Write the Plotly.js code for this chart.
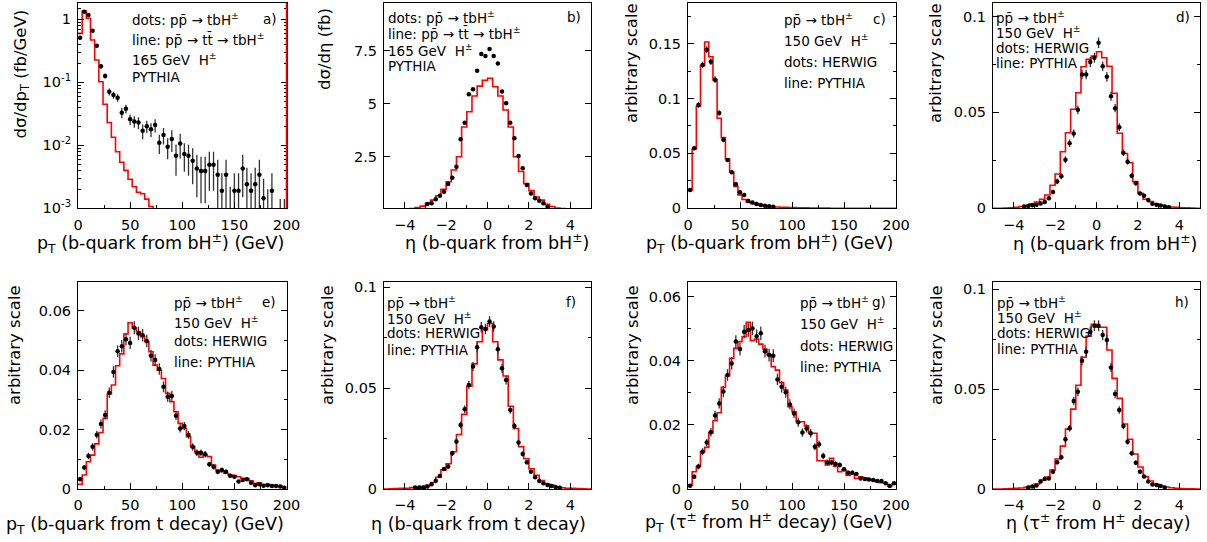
<!DOCTYPE html>
<html><head><meta charset="utf-8">
<script src="https://cdn.plot.ly/plotly-3.0.1.min.js"></script>
<style>html,body{margin:0;padding:0;background:#fff}#chart{width:1207px;height:542px}</style>
</head><body><div id="chart"></div>
<script>
// ---------------- DATA ----------------
const ptBinWidth = 4;        // GeV
const etaLineBinWidth = 0.25;
const etaDotBinWidth = 0.2;

// a) pT of b from bH+-, dsigma/dpT (fb/GeV), log scale
const aLine = [0.60,1.35,1.04,0.47,0.226,0.102,0.045,0.023,0.0134,0.0079,0.0054,0.0040,0.0029,0.0022,0.0018,0.0017,0.0014,0.00107,0.0008,0.0006,0.0005,0.0004,0.0003,0.00025,0.0002];
const aDots = [0.51,1.32,1.17,0.66,0.38,0.18,0.126,0.071,0.063,0.057,0.033,0.038,0.026,0.024,0.023,0.017,0.020,0.018,0.021,0.011,0.0146,0.0095,0.0126,0.0068,0.0107,0.0073,0.0068,0.0057,0.0043,0.0039,0.0039,0.0049,0.0049,0.0034,0.0019,0.0034,0.0009,0.0019,0.0019,0.0043,0.0024,0.0019,0.0024,0.0034,0.00144,0.0008,0.0019,null,0.0006,0.0006];
const aErr = [0.02,0.04,0.04,0.03,0.02,0.015,0.012,0.009,0.008,0.008,0.006,0.006,0.005,0.005,0.005,0.0045,0.0045,0.0045,0.005,0.0037,0.0043,0.0035,0.0048,0.0035,0.0045,0.0035,0.0035,0.0033,0.0028,0.0027,0.0027,0.003,0.003,0.0025,0.0017,0.0025,0.0013,0.0017,0.0017,0.0028,0.002,0.0017,0.002,0.0025,0.0015,0.0012,0.0017,0,0.0008,0.0008];
const aMinorTicks = [0.002,0.003,0.004,0.005,0.006,0.007,0.008,0.009,0.02,0.03,0.04,0.05,0.06,0.07,0.08,0.09,0.2,0.3,0.4,0.5,0.6,0.7,0.8,0.9,1.5];

// b) eta of b from bH+-, dsigma/deta (fb)
const bLine = [0,0,0.01,0.02,0.03,0.05,0.10,0.17,0.30,0.45,0.66,0.96,1.32,1.87,2.50,3.90,4.62,5.36,5.83,6.10,6.20,5.80,5.36,4.70,3.90,2.50,1.80,1.23,0.90,0.60,0.45,0.25,0.15,0.08,0.05,0.03,0.02,0.01,0,0];
const bDotFirst = -2.9;
const bDots = [0.27,0.30,0.49,0.66,0.85,1.21,1.51,2.03,3.32,4.10,5.44,5.68,6.56,7.34,7.25,7.58,7.25,6.90,5.57,5.02,4.10,3.37,2.53,1.95,1.17,0.77,0.54,0.42,0.30,0.14];

// c) pT of b from bH+-, arbitrary scale
const cLine = [0.0167,0.054,0.093,0.130,0.1515,0.138,0.117,0.082,0.0645,0.045,0.033,0.020,0.0122,0.0080,0.0055,0.0045,0.0035,0.0028,0.0024,0.0018,0.0014,0.0012,0.0010,0.0008,0.0007,0.0006,0.0005,0.0004,0.0004,0.0003,0.0003,0.0002,0.0002,0.0002,0.0001,0.0001,0.0001,0.0001,0.0001,0,0,0,0,0,0,0,0,0,0,0];
const cDots = [0.0167,0.0548,0.094,0.1305,0.1445,0.1336,0.1172,0.0867,0.0624,0.0441,0.0329,0.0219,0.0146,0.0122,0.0067,0.0052,0.0040,0.0030,0.0024,0.0019,0.0015];
const cErr = [0.0012,0.002,0.0025,0.003,0.003,0.003,0.003,0.0025,0.0022,0.0018,0.0015,0.0013,0.0011,0.001,0.0008,0.0007,0.0006,0.0005,0.0005,0.0004,0.0004];

// d) eta of b from bH+-
const dLine = [0,0,0.0001,0.0003,0.0005,0.0009,0.0014,0.0023,0.0033,0.0047,0.0069,0.0120,0.0179,0.0295,0.0394,0.0516,0.0602,0.0738,0.0776,0.0793,0.0816,0.0785,0.0740,0.0600,0.0391,0.0286,0.0238,0.0139,0.0078,0.0047,0.0035,0.0023,0.0016,0.0010,0.0007,0.0005,0.0003,0.0002,0.0001,0];
const dDotFirst = -3.5;
const dDots = [0.0009,0.0012,0.0016,0.0018,0.0025,0.0033,0.0052,0.0085,0.0140,0.0167,0.0253,0.0339,0.0390,0.0513,0.0697,0.0697,0.0762,0.0785,0.0863,0.0740,0.0685,0.0584,0.0522,0.0423,0.0290,0.0243,0.0170,0.0130,0.0077,0.0066,0.0043,0.0024,0.0018,0.0015,0.0010,0.0006];
const dErr = [0.0004,0.0005,0.0006,0.0006,0.0007,0.0008,0.001,0.0012,0.0015,0.0016,0.0018,0.002,0.0021,0.0023,0.0025,0.0025,0.0026,0.0026,0.0027,0.0025,0.0025,0.0023,0.0022,0.002,0.0017,0.0016,0.0013,0.0012,0.001,0.0009,0.0007,0.0006,0.0005,0.0005,0.0004,0.0003];

// e) pT of b from t decay
const eLine = [0.0016,0.0047,0.0092,0.0114,0.0152,0.0190,0.0238,0.0320,0.0350,0.0415,0.0455,0.0522,0.0560,0.0542,0.0530,0.0513,0.0496,0.0462,0.0417,0.0400,0.0372,0.0322,0.0294,0.0260,0.0221,0.0204,0.0176,0.0142,0.0126,0.0107,0.0114,0.0109,0.0081,0.0064,0.0058,0.0053,0.0047,0.0045,0.0041,0.0036,0.0034,0.0028,0.0019,0.0021,0.0013,0.0016,0.0013,0.0010,0.0010,0.0006];
const eDots = [0.0033,0.0072,0.0111,0.0142,0.0183,0.0219,0.0249,0.0324,0.0394,0.0464,0.0481,0.0504,0.0492,0.0543,0.0524,0.0518,0.0498,0.0449,0.0434,0.0404,0.0344,0.0311,0.0313,0.0247,0.0204,0.0212,0.0182,0.0142,0.0122,0.0122,0.0117,0.0083,0.0075,0.0058,0.0064,0.0058,0.0045,0.0041,0.0025,0.0030,0.0033,0.0021,0.0013,0.0016,0.0011,0.0013,0.0010,0.0010,0.0008,0.0004];
const eErr = [0.0006,0.0009,0.0011,0.0012,0.0013,0.0015,0.0016,0.0018,0.0019,0.002,0.0021,0.0021,0.0021,0.0022,0.0022,0.0021,0.0021,0.002,0.002,0.0019,0.0018,0.0017,0.0017,0.0015,0.0014,0.0014,0.0013,0.0012,0.0011,0.0011,0.0011,0.0009,0.0009,0.0008,0.0008,0.0008,0.0007,0.0006,0.0005,0.0005,0.0006,0.0005,0.0004,0.0004,0.0003,0.0004,0.0003,0.0003,0.0003,0.0002];

// f) eta of b from t decay
const fLine = [0,0.0001,0.0002,0.0003,0.0004,0.0007,0.0009,0.0012,0.0018,0.0032,0.0058,0.0095,0.0125,0.0185,0.0270,0.0370,0.0510,0.0620,0.0730,0.0790,0.0820,0.0730,0.0640,0.0560,0.0410,0.0300,0.0210,0.0150,0.0100,0.0068,0.0042,0.0026,0.0018,0.0010,0.0006,0.0004,0.0003,0.0002,0.0001,0];
const fDotFirst = -3.5;
const fDots = [0.0007,0.0007,0.0008,0.0012,0.0023,0.0041,0.0064,0.0099,0.0111,0.0177,0.0235,0.0317,0.0395,0.0516,0.0607,0.0702,0.0802,0.0793,0.0830,0.0805,0.0693,0.0598,0.0540,0.0392,0.0312,0.0231,0.0174,0.0132,0.0086,0.0058,0.0040,0.0028,0.0020,0.0015,0.0009,0.0006];
const fErr = [0.0003,0.0003,0.0003,0.0004,0.0005,0.0007,0.0008,0.001,0.0011,0.0013,0.0015,0.0017,0.0019,0.0021,0.0023,0.0025,0.0026,0.0026,0.0027,0.0026,0.0025,0.0023,0.0022,0.0019,0.0017,0.0015,0.0013,0.0011,0.0009,0.0008,0.0006,0.0005,0.0004,0.0004,0.0003,0.0003];

// g) pT of tau from H+- decay
const gLine = [0.0012,0.0054,0.0070,0.0116,0.0130,0.0176,0.0213,0.0238,0.0317,0.0353,0.0408,0.0439,0.0460,0.0475,0.0520,0.0463,0.0468,0.0452,0.0437,0.0418,0.0382,0.0371,0.0332,0.0309,0.0257,0.0241,0.0210,0.0210,0.0197,0.0174,0.0174,0.0088,0.0088,0.0075,0.0096,0.0070,0.0054,0.0059,0.0042,0.0047,0.0033,0.0038,0.0035,0.0028,0.0028,0.0023,0.0020,0.0018,0.0009,0.0015];
const gDots = [0.0010,0.0038,0.0070,0.0116,0.0145,0.0177,0.0229,0.0267,0.0304,0.0356,0.0392,0.0460,0.0437,0.0491,0.0496,0.0501,0.0477,0.0486,0.0430,0.0418,0.0416,0.0342,0.0319,0.0302,0.0264,0.0236,0.0208,0.0176,0.0189,0.0174,0.0132,0.0140,0.0103,0.0083,0.0083,0.0078,0.0075,0.0062,0.0051,0.0051,0.0047,0.0033,0.0031,0.0030,0.0028,0.0025,0.0025,0.0018,0.0009,0.0018];
const gErr = [0.0004,0.0007,0.0009,0.0011,0.0012,0.0013,0.0015,0.0016,0.0017,0.0018,0.0019,0.002,0.002,0.0021,0.0021,0.0021,0.0021,0.0021,0.002,0.002,0.002,0.0018,0.0018,0.0017,0.0016,0.0015,0.0014,0.0013,0.0013,0.0013,0.0011,0.0011,0.001,0.0009,0.0009,0.0008,0.0008,0.0007,0.0007,0.0007,0.0006,0.0005,0.0005,0.0005,0.0005,0.0005,0.0005,0.0004,0.0003,0.0004];

// h) eta of tau from H+- decay
const hLine = [0,0,0.0001,0.0002,0.0003,0.0005,0.0008,0.0013,0.0025,0.0045,0.0060,0.0095,0.0150,0.0215,0.0300,0.0400,0.0520,0.0660,0.0766,0.0825,0.0810,0.0810,0.0696,0.0554,0.0454,0.0326,0.0249,0.0175,0.0110,0.0062,0.0040,0.0025,0.0015,0.0010,0.0006,0.0004,0.0002,0.0001,0.0001,0];
const hDotFirst = -3.3;
const hDots = [0.0007,0.0012,0.0017,0.0037,0.0050,0.0053,0.0087,0.0134,0.0159,0.0249,0.0304,0.0441,0.0487,0.0643,0.0688,0.0788,0.0818,0.0818,0.0771,0.0746,0.0609,0.0476,0.0396,0.0316,0.0237,0.0179,0.0132,0.0087,0.0062,0.0037,0.0023,0.0020,0.0015,0.0008];
const hErr = [0.0003,0.0004,0.0004,0.0006,0.0007,0.0007,0.0009,0.0011,0.0012,0.0015,0.0017,0.002,0.0021,0.0024,0.0025,0.0026,0.0027,0.0027,0.0026,0.0026,0.0023,0.0021,0.0019,0.0017,0.0015,0.0013,0.0011,0.0009,0.0008,0.0006,0.0005,0.0004,0.0004,0.0003];

// ---------------- LAYOUT HELPERS ----------------
const W = 1207, H = 542;
const FONT = 'DejaVu Sans';
const colPx = [[78,286.5],[384,591],[688,896],[993,1200]];
const rowPx = [[3,208.3],[282,489]];
const px = p => p / W;
const py = p => 1 - p / H;

function stepTrace(lo, w, vals, ax) {
  const x = [], y = [];
  vals.forEach((v, i) => { x.push(lo + i * w); y.push(v); });
  x.push(lo + vals.length * w); y.push(vals[vals.length - 1]);
  return {type:'scatter', mode:'lines', x, y, xaxis:'x'+ax, yaxis:'y'+ax,
    line:{shape:'hv', color:'#ff0000', width:1.6}, hoverinfo:'skip', showlegend:false};
}
function dotTrace(first, w, vals, errs, ax) {
  const x = vals.map((_, i) => first + i * w);
  const t = {type:'scatter', mode:'markers', x, y:vals, xaxis:'x'+ax, yaxis:'y'+ax,
    marker:{color:'#000', size:4.5}, showlegend:false, hoverinfo:'skip'};
  if (errs) t.error_y = {type:'data', array:errs, visible:true, color:'#333', thickness:1.3, width:0};
  return t;
}

const traces = [
  stepTrace(0, ptBinWidth, aLine, ''),
  dotTrace(ptBinWidth/2, ptBinWidth, aDots, aErr, ''),
  stepTrace(-5, etaLineBinWidth, bLine, '2'),
  dotTrace(bDotFirst, etaDotBinWidth, bDots, null, '2'),
  stepTrace(0, ptBinWidth, cLine, '3'),
  dotTrace(ptBinWidth/2, ptBinWidth, cDots, cErr, '3'),
  stepTrace(-5, etaLineBinWidth, dLine, '4'),
  dotTrace(dDotFirst, etaDotBinWidth, dDots, dErr, '4'),
  stepTrace(0, ptBinWidth, eLine, '5'),
  dotTrace(ptBinWidth/2, ptBinWidth, eDots, eErr, '5'),
  stepTrace(-5, etaLineBinWidth, fLine, '6'),
  dotTrace(fDotFirst, etaDotBinWidth, fDots, fErr, '6'),
  stepTrace(0, ptBinWidth, gLine, '7'),
  dotTrace(ptBinWidth/2, ptBinWidth, gDots, gErr, '7'),
  stepTrace(-5, etaLineBinWidth, hLine, '8'),
  dotTrace(hDotFirst, etaDotBinWidth, hDots, hErr, '8'),
];

const tickFont = {family:FONT, size:14.5, color:'#000'};
function baseAxis() {
  return {showline:true, linecolor:'#000', linewidth:1, ticks:'inside', ticklen:6, tickwidth:1,
    tickcolor:'#000', tickfont:tickFont, showgrid:false, zeroline:false, fixedrange:true, ticklabelstandoff:3};
}
function xAxis(col, row, isPt, anchor) {
  const a = baseAxis();
  a.domain = [px(colPx[col][0]), px(colPx[col][1])];
  a.anchor = anchor; a.mirror = true;
  if (isPt) { a.range = [0,200]; a.dtick = 50; a.tick0 = 0; a.minor = {ticks:'inside', ticklen:3, dtick:25, tickcolor:'#000'}; }
  else { a.range = [-5,5]; a.dtick = 2; a.tick0 = 0; a.minor = {ticks:'inside', ticklen:3, dtick:1, tickcolor:'#000'}; }
  return a;
}
function yAxis(row, range, dtick, minor, anchor) {
  const a = baseAxis();
  a.domain = [py(rowPx[row][1]), py(rowPx[row][0])];
  a.anchor = anchor; a.mirror = 'ticks';
  a.range = range; a.dtick = dtick; a.tick0 = 0;
  if (minor) a.minor = {ticks:'inside', ticklen:3, dtick:minor, tickcolor:'#000'};
  return a;
}

const layout = {
  width:W, height:H, autosize:false, margin:{l:0,r:0,t:0,b:0},
  paper_bgcolor:'#fff', plot_bgcolor:'#fff', showlegend:false,
  font:{family:FONT, color:'#000'},
  xaxis: xAxis(0,0,true,'y'),
  xaxis2: xAxis(1,0,false,'y2'),
  xaxis3: xAxis(2,0,true,'y3'),
  xaxis4: xAxis(3,0,false,'y4'),
  xaxis5: xAxis(0,1,true,'y5'),
  xaxis6: xAxis(1,1,false,'y6'),
  xaxis7: xAxis(2,1,true,'y7'),
  xaxis8: xAxis(3,1,false,'y8'),
  yaxis: Object.assign(yAxis(0,[-3,0.26],null,null,'x'), {type:'log', tickmode:'array',
    tickvals:[0.001,0.01,0.1,1], ticktext:['10<sup>-3</sup>','10<sup>-2</sup>','10<sup>-1</sup>','1'],
    minor:{tickmode:'array', tickvals:aMinorTicks, ticks:'inside', ticklen:3, tickcolor:'#000'}}),
  yaxis2: yAxis(0,[0.066,9.75],2.5,null,'x2'),
  yaxis3: yAxis(0,[0,0.187],0.05,0.025,'x3'),
  yaxis4: yAxis(0,[0,0.107],0.05,0.025,'x4'),
  yaxis5: yAxis(1,[0,0.0697],0.02,0.01,'x5'),
  yaxis6: yAxis(1,[0,0.1026],0.05,0.025,'x6'),
  yaxis7: yAxis(1,[0,0.0646],0.02,0.01,'x7'),
  yaxis8: yAxis(1,[0,0.1037],0.05,0.025,'x8'),
  shapes: [
    {type:'line', xref:'x domain', yref:'y domain', x0:1, x1:1, y0:0, y1:1, layer:'above',
     line:{color:'#ff0000', width:1.6}}
  ],
  annotations: []
};

const PP = 'pp\u0304';
const TT = 'tt\u0304';
const HPM = 'H<sup>±</sup>';
const textLines = [
  {x:130, ys:[19,39,59,77], lines:['dots: '+PP+' \u2192 tb'+HPM, 'line: '+PP+' \u2192 '+TT+' \u2192 tb'+HPM, '165 GeV  '+HPM, 'PYTHIA'], tag:'a)', tagX:279},
  {x:386, ys:[17,33,50,66], lines:['dots: '+PP+' \u2192 tb'+HPM, 'line: '+PP+' \u2192 '+TT+' \u2192 tb'+HPM, '165 GeV  '+HPM, 'PYTHIA'], tag:'b)', tagX:583},
  {x:782, ys:[19,40,62,83], lines:[PP+' \u2192 tb'+HPM, '150 GeV  '+HPM, 'dots: HERWIG', 'line: PYTHIA'], tag:'c)', tagX:888},
  {x:994, ys:[17,32,48,63], lines:[PP+' \u2192 tb'+HPM, '150 GeV  '+HPM, 'dots: HERWIG', 'line: PYTHIA'], tag:'d)', tagX:1192},
  {x:172, ys:[302,322,341,362], lines:[PP+' \u2192 tb'+HPM, '150 GeV  '+HPM, 'dots: HERWIG', 'line: PYTHIA'], tag:'e)', tagX:278},
  {x:385, ys:[302,318,333,350], lines:[PP+' \u2192 tb'+HPM, '150 GeV  '+HPM, 'dots: HERWIG', 'line: PYTHIA'], tag:'f)', tagX:578},
  {x:798, ys:[302,323,346,367], lines:[PP+' \u2192 tb'+HPM, '150 GeV  '+HPM, 'dots: HERWIG', 'line: PYTHIA'], tag:'g)', tagX:888},
  {x:995, ys:[302,317,333,349], lines:[PP+' \u2192 tb'+HPM, '150 GeV  '+HPM, 'dots: HERWIG', 'line: PYTHIA'], tag:'h)', tagX:1191},
];
const annFont = {family:FONT, size:13.5, color:'#000'};
textLines.forEach(p => {
  p.lines.forEach((t, i) => layout.annotations.push({xref:'paper', yref:'paper', x:px(p.x), y:py(p.ys[i]),
    xanchor:'left', yanchor:'middle', text:t, showarrow:false, font:annFont}));
  layout.annotations.push({xref:'paper', yref:'paper', x:px(p.tagX), y:py(p.ys[0]),
    xanchor:'right', yanchor:'middle', text:p.tag, showarrow:false, font:annFont});
});

// axis titles (ROOT style: x right-aligned, y top-aligned)
const xTitleFont = {family:FONT, size:17.5, color:'#000'};
const yTitleFont = {family:FONT, size:16.5, color:'#000'};
const xTitles = [
  {t:'p<sub>T</sub> (b-quark from bH<sup>±</sup>) (GeV)', x:286, y:243},
  {t:'η (b-quark from bH<sup>±</sup>)', x:591, y:242},
  {t:'p<sub>T</sub> (b-quark from bH<sup>±</sup>) (GeV)', x:895, y:243},
  {t:'η (b-quark from bH<sup>±</sup>)', x:1199, y:243},
  {t:'p<sub>T</sub> (b-quark from t decay) (GeV)', x:286, y:525},
  {t:'η (b-quark from t decay)', x:588, y:524},
  {t:'p<sub>T</sub> (τ<sup>±</sup> from H<sup>±</sup> decay) (GeV)', x:895, y:522},
  {t:'η (τ<sup>±</sup> from H<sup>±</sup> decay)', x:1193, y:522},
];
xTitles.forEach(o => layout.annotations.push({xref:'paper', yref:'paper', x:px(o.x), y:py(o.y),
  xanchor:'right', yanchor:'middle', text:o.t, showarrow:false, font:xTitleFont}));
const yTitles = [
  {t:'dσ/dp<sub>T</sub> (fb/GeV)', x:21, yt:8},
  {t:'dσ/dη (fb)', x:325, yt:6},
  {t:'arbitrary scale', x:632, yt:1},
  {t:'arbitrary scale', x:936, yt:1},
  {t:'arbitrary scale', x:14, yt:283},
  {t:'arbitrary scale', x:327, yt:283},
  {t:'arbitrary scale', x:632, yt:283},
  {t:'arbitrary scale', x:936, yt:283},
];
yTitles.forEach(o => layout.annotations.push({xref:'paper', yref:'paper', x:px(o.x), y:py(o.yt),
  xanchor:'center', yanchor:'top', textangle:-90, text:o.t, showarrow:false, font:yTitleFont}));

Plotly.newPlot('chart', traces, layout, {staticPlot:true, displayModeBar:false});
</script>
</body></html>
